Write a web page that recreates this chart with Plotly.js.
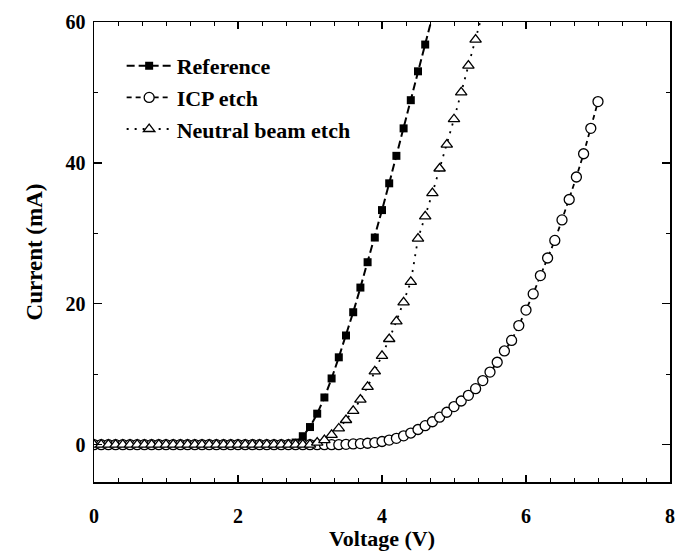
<!DOCTYPE html>
<html>
<head>
<meta charset="utf-8">
<script src="https://cdn.plot.ly/plotly-3.0.1.min.js"></script>
<style>html,body{margin:0;padding:0;background:#fff;}#chart{width:675px;height:556px;}</style>
</head>
<body>
<div id="chart"></div>
<script>
// Voltage (V) sample points
var voltage = [0.0,0.1,0.2,0.3,0.4,0.5,0.6,0.7,0.8,0.9,
  1.0,1.1,1.2,1.3,1.4,1.5,1.6,1.7,1.8,1.9,
  2.0,2.1,2.2,2.3,2.4,2.5,2.6,2.7,2.8,2.9,
  3.0,3.1,3.2,3.3,3.4,3.5,3.6,3.7,3.8,3.9,
  4.0,4.1,4.2,4.3,4.4,4.5,4.6,4.7,4.8,4.9,
  5.0,5.1,5.2,5.3,5.4,5.5,5.6,5.7,5.8,5.9,
  6.0,6.1,6.2,6.3,6.4,6.5,6.6,6.7,6.8,6.9,7.0];

// Current (mA), Reference: 0.0 .. 4.7 V
var refCurrent = [0,0,0,0,0,0,0,0,0,0,
  0,0,0,0,0,0,0,0,0,0,
  0,0,0,0,0,0,0,0,0.3,1.2,
  2.5,4.4,6.7,9.4,12.4,15.5,18.8,22.3,25.9,29.4,
  33.3,37.1,41.0,44.9,48.9,53.0,56.8,60.8];

// Current (mA), ICP etch: 0.0 .. 7.0 V
var icpCurrent = [0,0,0,0,0,0,0,0,0,0,
  0,0,0,0,0,0,0,0,0,0,
  0,0,0,0,0,0,0,0,0,0,
  0,0,0,0,0,0.05,0.1,0.15,0.2,0.3,
  0.45,0.65,0.9,1.25,1.65,2.15,2.7,3.25,3.9,4.6,
  5.4,6.2,7.0,7.95,9.1,10.3,11.7,13.3,14.8,16.9,
  19.1,21.4,24.0,26.5,29.0,31.9,34.8,38.0,41.3,44.9,48.7];

// Current (mA), Neutral beam etch: 0.0 .. 5.4 V
var nbCurrent = [0,0,0,0,0,0,0,0,0,0,
  0,0,0,0,0,0,0,0,0,0,
  0,0,0,0,0,0,0,0,0,0,
  0,0.3,0.65,1.4,2.3,3.5,4.8,6.4,8.2,10.4,
  12.6,15.0,17.5,20.2,23.1,29.25,32.4,35.7,39.2,42.6,
  46.2,50.0,53.8,57.5,61.4];

var seriesNames = ['Reference', 'ICP etch', 'Neutral beam etch'];
var xTicks = [0, 2, 4, 6, 8];
var yTicks = [0, 20, 40, 60];

var traces = [
  {
    x: voltage.slice(0, refCurrent.length), y: refCurrent, name: seriesNames[0],
    type: 'scatter', mode: 'lines+markers',
    line: {color: '#000', width: 2, dash: '8px,4px'},
    marker: {symbol: 'square', size: 8, color: '#000'}
  },
  {
    x: voltage.slice(0, icpCurrent.length), y: icpCurrent, name: seriesNames[1],
    type: 'scatter', mode: 'lines+markers',
    line: {color: '#000', width: 1.8, dash: '5px,4px'},
    marker: {symbol: 'circle', size: 10, color: '#fff', line: {color: '#000', width: 1.3}}
  },
  {
    x: voltage.slice(0, nbCurrent.length), y: nbCurrent, name: seriesNames[2],
    type: 'scatter', mode: 'lines+markers',
    line: {color: '#000', width: 1.8, dash: '2px,6px'},
    marker: {symbol: 'triangle-up', size: 10, color: '#fff', line: {color: '#000', width: 1.3}}
  }
];

var fontFam = '"Liberation Serif", "Times New Roman", serif';
var layout = {
  width: 675, height: 556,
  margin: {l: 94, r: 5, t: 22, b: 74},
  paper_bgcolor: '#fff', plot_bgcolor: '#fff',
  font: {family: fontFam, size: 20, color: '#000', weight: 'bold'},
  showlegend: true,
  legend: {
    x: 0.048, y: 0.95, xanchor: 'left', yanchor: 'top',
    bgcolor: 'rgba(0,0,0,0)', borderwidth: 0,
    itemwidth: 45,
    font: {family: fontFam, size: 22, color: '#000', weight: 'bold'},
    tracegroupgap: 0
  },
  xaxis: {
    range: [0, 8], tickvals: xTicks, ticktext: xTicks.map(String),
    ticks: 'inside', ticklen: 7, tickwidth: 1.3, tickcolor: '#000',
    ticklabelstandoff: 15,
    minor: {dtick: 1/3, tick0: 0, ticks: 'inside', ticklen: 4, tickwidth: 1, tickcolor: '#000'},
    showline: true, linecolor: '#000', linewidth: 1.5, mirror: 'ticks',
    showgrid: false, zeroline: false,
    tickfont: {family: fontFam, size: 20, weight: 'bold'},
    title: {text: 'Voltage (V)', font: {family: fontFam, size: 22, weight: 'bold'}, standoff: 3}
  },
  yaxis: {
    range: [-5.3, 60], tickvals: yTicks, ticktext: yTicks.map(String),
    ticks: 'inside', ticklen: 8, tickwidth: 1.3, tickcolor: '#000',
    ticklabelstandoff: 3,
    minor: {dtick: 10, tick0: 0, ticks: 'inside', ticklen: 4, tickwidth: 1, tickcolor: '#000'},
    showline: true, linecolor: '#000', linewidth: 1.5, mirror: 'ticks',
    showgrid: false, zeroline: false,
    tickfont: {family: fontFam, size: 20, weight: 'bold'},
    title: {text: 'Current (mA)', font: {family: fontFam, size: 23, weight: 'bold'}, standoff: 16}
  }
};

Plotly.newPlot('chart', traces, layout, {displayModeBar: false, staticPlot: true});
</script>
</body>
</html>
